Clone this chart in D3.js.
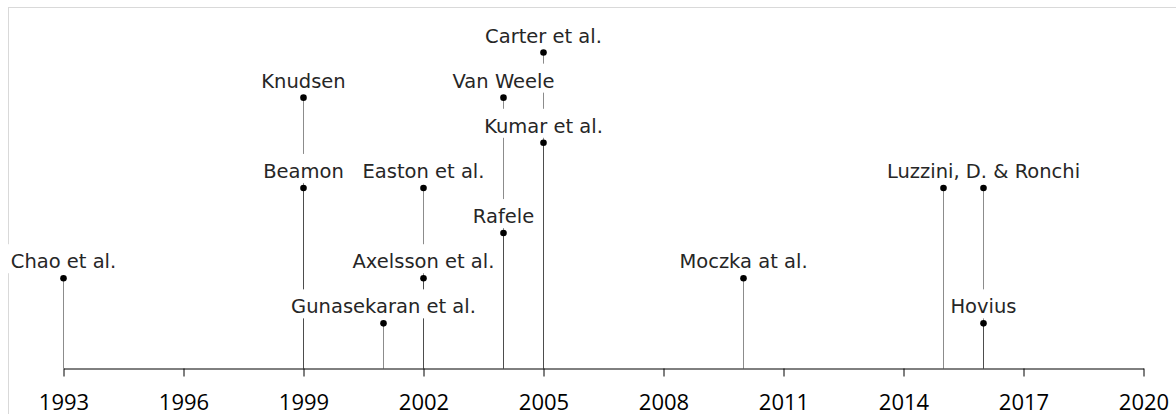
<!DOCTYPE html>
<html>
<head>
<meta charset="utf-8">
<script src="https://cdn.jsdelivr.net/npm/d3@7"></script>
<style>
  html, body { margin: 0; padding: 0; background: #fff; overflow: hidden; }
</style>
</head>
<body>
<svg id="chart" width="1176" height="414"></svg>
<script>
// publications on the timeline: year, stacking level, label
let years  = [1993, 1999, 1999, 2001, 2002, 2002, 2004, 2004, 2005, 2005, 2010, 2015, 2016, 2016];
let levels = [2, 4, 6, 1, 2, 4, 3, 6, 5, 7, 2, 4, 4, 1];
let labels = ['Chao et al.', 'Beamon', 'Knudsen', 'Gunasekaran et al.', 'Axelsson et al.',
              'Easton et al.', 'Rafele', 'Van Weele', 'Kumar et al.', 'Carter et al.',
              'Moczka at al.', '', 'Luzzini, D. & Ronchi', 'Hovius'];
let tickYears = [1993, 1996, 1999, 2002, 2005, 2008, 2011, 2014, 2017, 2020];

let data = years.map(function(y, i) {
  return {year: y, level: levels[i], label: labels[i]};
});

let svg = d3.select('#chart');

let x = d3.scaleLinear().domain([1993, 2020]).range([63.5, 1143.5]);
let y = d3.scaleLinear().domain([0, 7]).range([368.5, 52.5]);

// chart area border (only top/left visible)
svg.append('rect')
  .attr('x', 8.5).attr('y', 7.5)
  .attr('width', 1300).attr('height', 500)
  .attr('fill', 'none')
  .attr('stroke', '#d9d9d9')
  .attr('stroke-width', 1);

// stems
svg.selectAll('.stem')
  .data(data)
  .enter().append('line')
  .attr('class', 'stem')
  .attr('x1', function(d) { return x(d.year); })
  .attr('x2', function(d) { return x(d.year); })
  .attr('y1', y(0))
  .attr('y2', function(d) { return y(d.level); })
  .attr('stroke', '#000')
  .attr('stroke-opacity', 0.45)
  .attr('stroke-width', 1);

// labels with white backgrounds that cut the stems behind them
let lab = svg.selectAll('.lab')
  .data(data.filter(function(d) { return d.label != ''; }))
  .enter().append('g')
  .attr('class', 'lab');

lab.append('rect')
  .attr('fill', '#fff');

lab.append('text')
  .text(function(d) { return d.label; })
  .attr('x', function(d) { return x(d.year); })
  .attr('y', function(d) { return y(d.level) - 10; })
  .attr('text-anchor', 'middle')
  .attr('font-family', 'DejaVu Sans')
  .attr('font-size', 19.5)
  .attr('fill', '#262626');

lab.each(function(d) {
  let g = d3.select(this);
  let w = g.select('text').node().getComputedTextLength();
  g.select('rect')
    .attr('x', x(d.year) - w / 2 - 4)
    .attr('y', y(d.level) - 34)
    .attr('width', w + 8)
    .attr('height', 29);
});

// dots
svg.selectAll('.dot')
  .data(data)
  .enter().append('circle')
  .attr('class', 'dot')
  .attr('cx', function(d) { return x(d.year); })
  .attr('cy', function(d) { return y(d.level); })
  .attr('r', 3.3)
  .attr('fill', '#000');

// axis
let axis = svg.append('g')
  .attr('transform', 'translate(0,' + y(0) + ')')
  .call(d3.axisBottom(x)
    .tickValues(tickYears)
    .tickFormat(d3.format('d'))
    .tickSize(8)
    .tickSizeOuter(0));

axis.select('.domain').attr('stroke', '#000');
axis.selectAll('.tick line').attr('stroke', '#000');
axis.selectAll('.tick text')
  .attr('y', 41)
  .attr('dy', 0)
  .attr('font-family', 'Open Sans')
  .attr('font-size', 22)
  .attr('fill', '#000');
</script>
</body>
</html>
